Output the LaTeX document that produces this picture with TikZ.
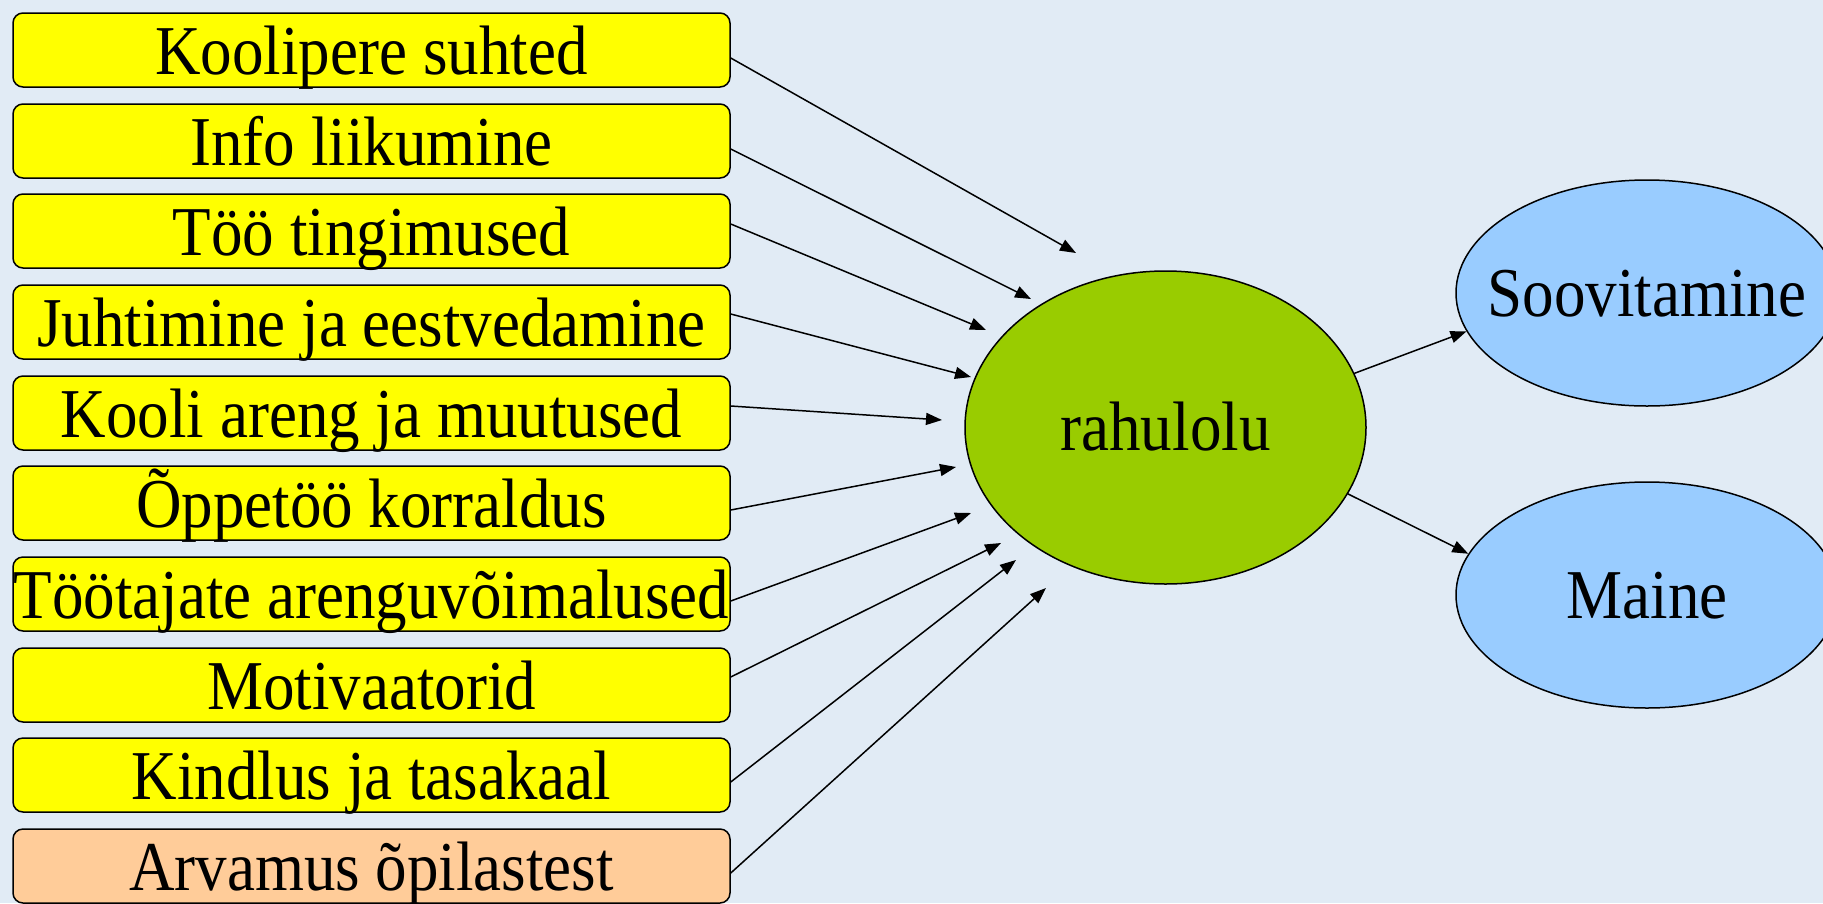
\documentclass[tikz,border=0pt]{standalone}
\usepackage{fontspec}
\setmainfont{Liberation Serif}[FakeStretch=0.9]
\usepackage{xcolor}
\usetikzlibrary{arrows.meta,shapes.geometric}
\definecolor{bgblue}{HTML}{E1EBF5}
\definecolor{boxyellow}{HTML}{FFFF00}
\definecolor{boxpeach}{HTML}{FFCC99}
\definecolor{satgreen}{HTML}{99CC00}
\definecolor{outblue}{HTML}{99CCFF}

\begin{document}
\begin{tikzpicture}[line cap=round,line join=round,x=1pt,y=-1pt,
    factor/.style={draw=black,line width=1.5pt,fill=boxyellow,rounded corners=10pt,
        minimum width=717pt,minimum height=74pt,inner sep=0pt,
        text height=48pt,text depth=0pt,font=\fontsize{70}{84}\selectfont},
    blob/.style={ellipse,draw=black,line width=1.5pt,inner sep=0pt,inner xsep=-40pt,
        text height=46pt,text depth=0pt,font=\fontsize{70}{84}\selectfont},
    arr/.style={line width=1.5pt,-{Triangle[length=16pt,width=12pt]}}]
                \useasboundingbox (0,0) rectangle (1823,903);
                \clip (0,0) rectangle (1823,903);
                \fill [bgblue] (0,0) rectangle (1823,903);
                \node[factor] (koolipere) at (371.5,50) {Koolipere suhted};
                \node[factor] (info) at (371.5,141) {Info liikumine};
                \node[factor] (tingimused) at (371.5,231) {Töö tingimused};
                \node[factor] (juhtimine) at (371.5,322) {Juhtimine ja eestvedamine};
                \node[factor] (areng) at (371.5,413) {Kooli areng ja muutused};
                \node[factor] (oppetoo) at (371.5,503) {Õppetöö korraldus};
                \node[factor] (tootajad) at (371.5,594) {Töötajate arenguvõimalused};
                \node[factor] (motiv) at (371.5,685) {Motivaatorid};
                \node[factor] (kindlus) at (371.5,775) {Kindlus ja tasakaal};
                \node[factor,fill=boxpeach] (arvamus) at (371.5,866) {Arvamus õpilastest};
                \node[blob,fill=satgreen,minimum width=401pt,minimum height=313pt] (rahulolu) at (1165.5,427.5) {rahulolu};
                \node[blob,fill=outblue,minimum width=382pt,minimum height=226pt] (soov) at (1647,293) {Soovitamine};
                \node[blob,fill=outblue,minimum width=382pt,minimum height=226pt] (maine) at (1647,595) {Maine};
                \coordinate (t1) at (1076,253);
                \coordinate (t2) at (1031,299);
                \coordinate (t3) at (986,330);
                \coordinate (t4) at (971,377);
                \coordinate (t5) at (942,420);
                \coordinate (t6) at (956,467);
                \coordinate (t7) at (971,513);
                \coordinate (t8) at (1001,543);
                \coordinate (t9) at (1016,560);
                \coordinate (t10) at (1046,588);
                \draw [arr] ([yshift=-8pt]koolipere.east) -- (t1);
                \draw [arr] ([yshift=-8pt]info.east) -- (t2);
                \draw [arr] ([yshift=7pt]tingimused.east) -- (t3);
                \draw [arr] ([yshift=8pt]juhtimine.east) -- (t4);
                \draw [arr] ([yshift=7pt]areng.east) -- (t5);
                \draw [arr] ([yshift=-7pt]oppetoo.east) -- (t6);
                \draw [arr] ([yshift=-7pt]tootajad.east) -- (t7);
                \draw [arr] ([yshift=8pt]motiv.east) -- (t8);
                \draw [arr] ([yshift=-7pt]kindlus.east) -- (t9);
                \draw [arr] ([yshift=-7pt]arvamus.east) -- (t10);
                \draw [arr] (rahulolu.16) -- (soov.192);
                \draw [arr] (rahulolu.-20) -- (maine.167);
            \end{tikzpicture}
\end{document}
